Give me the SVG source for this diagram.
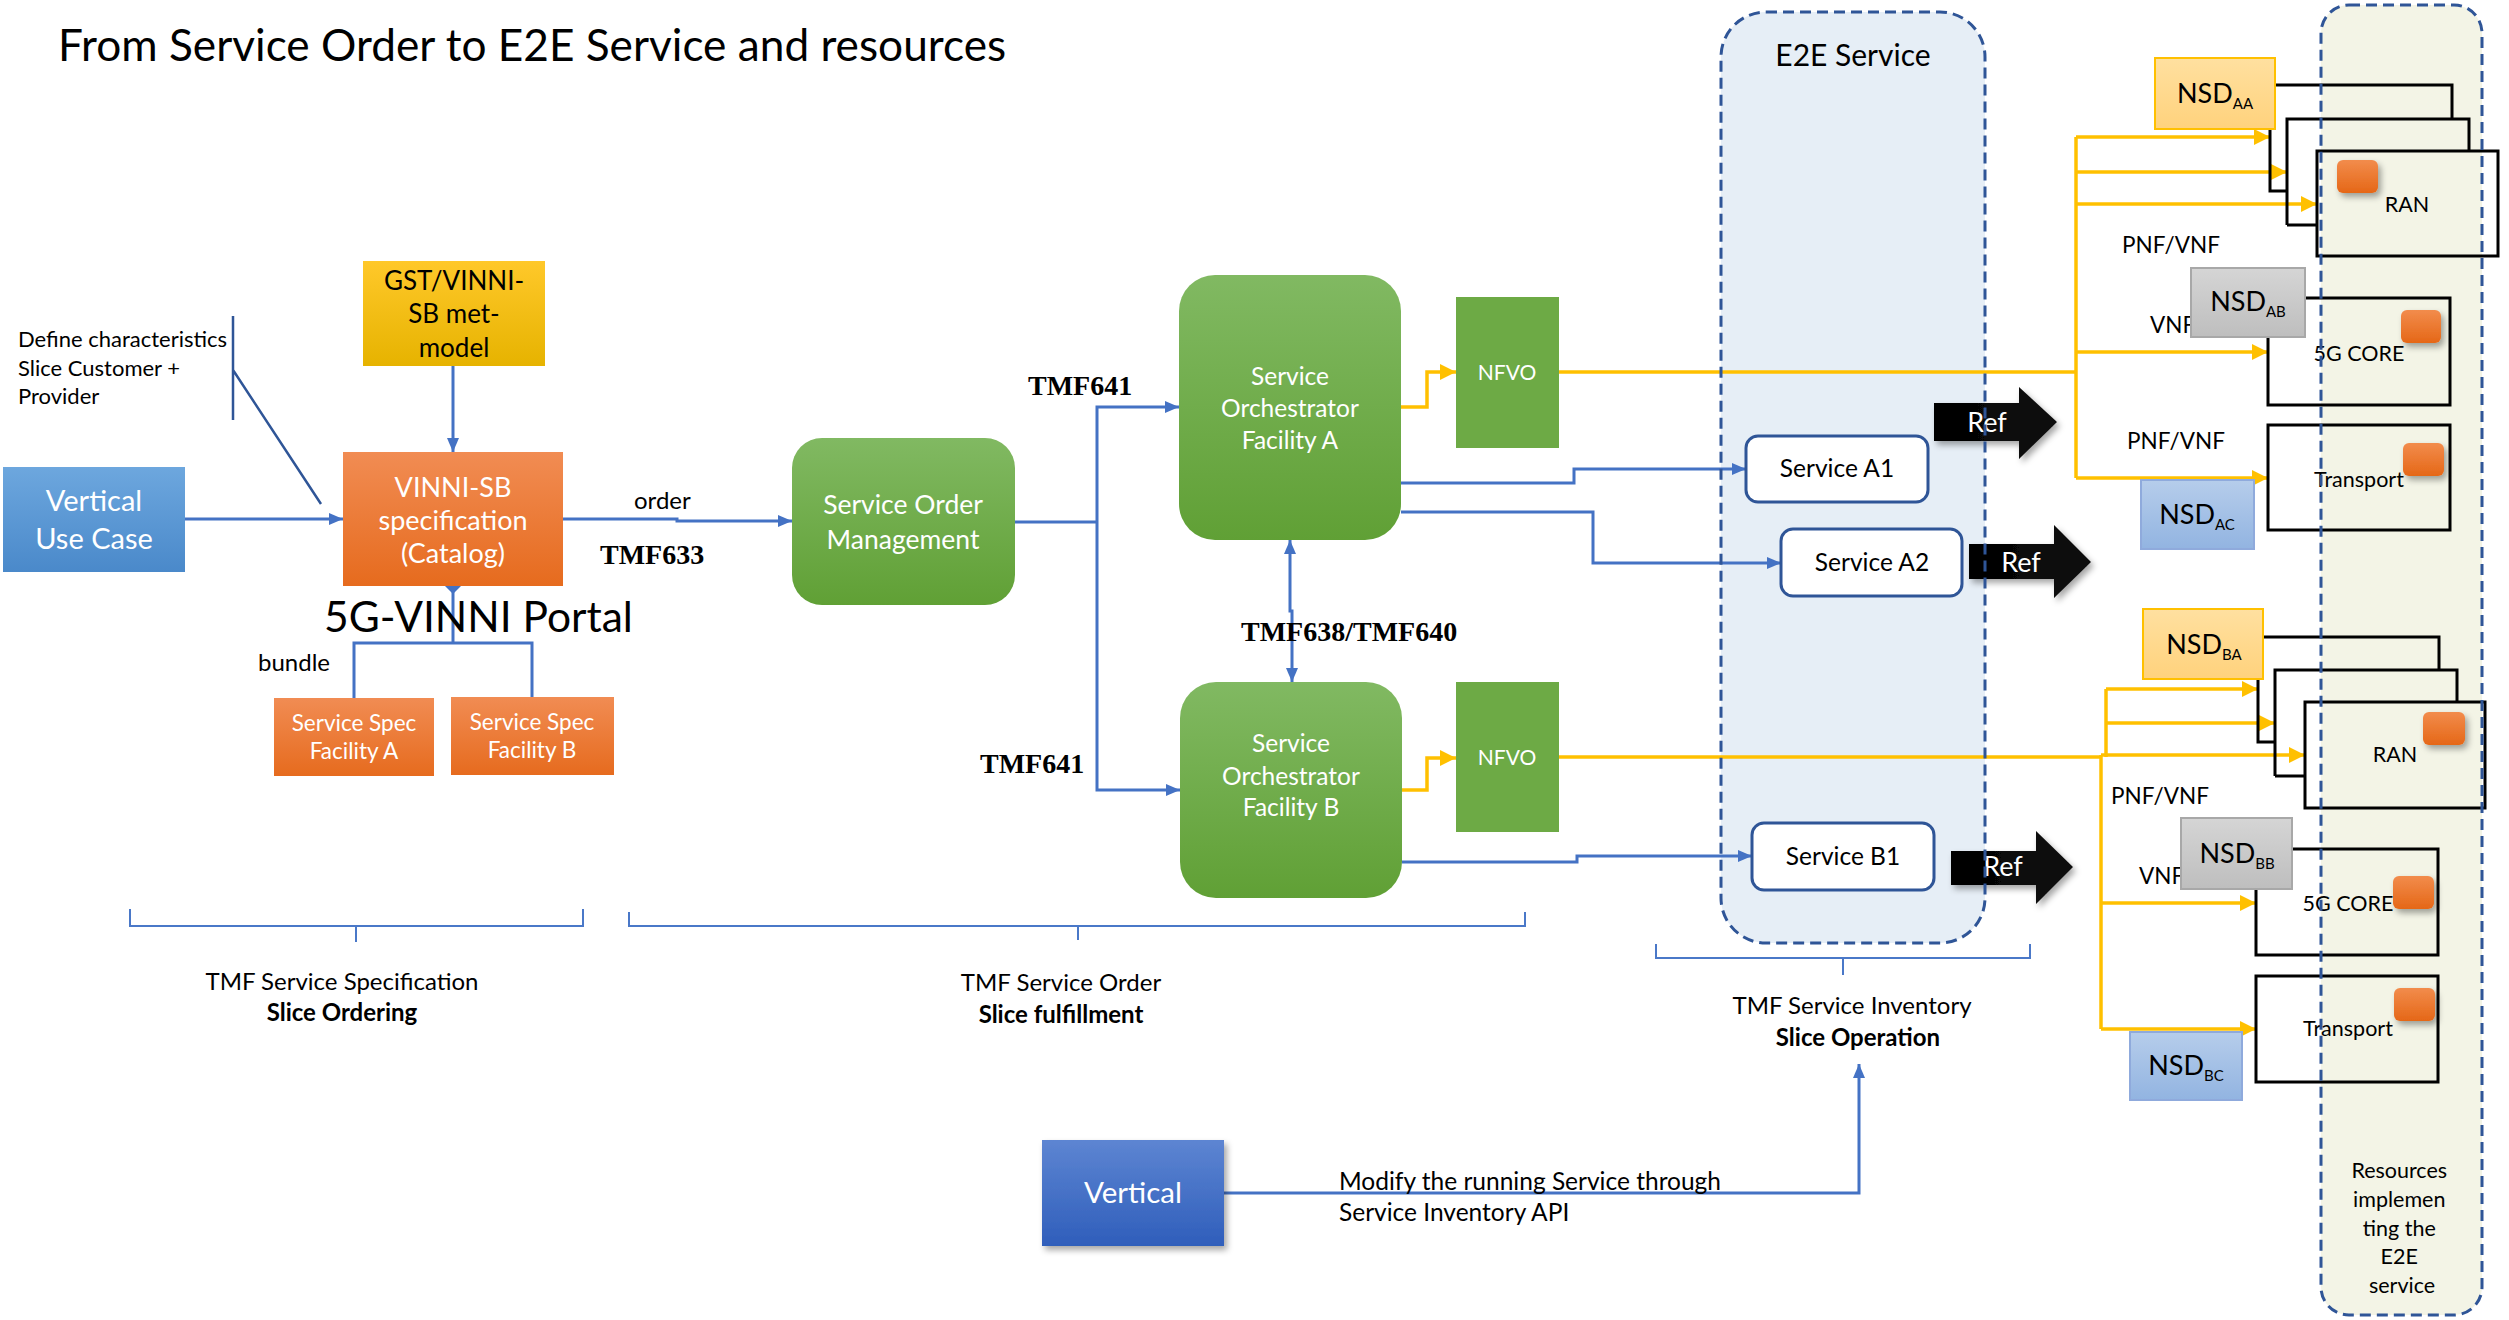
<svg xmlns="http://www.w3.org/2000/svg" width="2509" height="1320" viewBox="0 0 2509 1320">
  <style>
    text { font-family: Lato, "Liberation Sans", sans-serif; fill: #000; }
    .w { fill: #fff; }
    .mid { text-anchor: middle; }
    .tmf { font-family: "Liberation Serif", "Times New Roman", serif; font-weight: bold; font-size: 28px; }
    .blue { fill: none; stroke: #4472C4; stroke-width: 3; }
    .yel { fill: none; stroke: #FFC000; stroke-width: 3.5; }
    .brace { fill: none; stroke: #4A78C8; stroke-width: 2; }
    .res { fill: none; stroke: #000; stroke-width: 3; }
    .svc { fill: #fff; stroke: #2F5597; stroke-width: 3; }
    .dash { stroke: #2F5597; stroke-width: 3; stroke-dasharray: 11 6; }
    .chip { fill: url(#gChip); filter: url(#shadow); }
  </style>
  <defs>
    <linearGradient id="gBlue" x1="0" y1="0" x2="0" y2="1"><stop offset="0" stop-color="#6DA7DE"/><stop offset="1" stop-color="#4A89CA"/></linearGradient>
    <linearGradient id="gGold" x1="0" y1="0" x2="0" y2="1"><stop offset="0" stop-color="#FFC82A"/><stop offset="1" stop-color="#E6B300"/></linearGradient>
    <linearGradient id="gOrange" x1="0" y1="0" x2="0" y2="1"><stop offset="0" stop-color="#F18C53"/><stop offset="1" stop-color="#E66B1E"/></linearGradient>
    <linearGradient id="gGreen" x1="0" y1="0" x2="0" y2="1"><stop offset="0" stop-color="#81B962"/><stop offset="1" stop-color="#60A035"/></linearGradient>
    <linearGradient id="gVert" x1="0" y1="0" x2="0" y2="1"><stop offset="0" stop-color="#5D85D2"/><stop offset="1" stop-color="#2F5EBB"/></linearGradient>
    <linearGradient id="gNsdY" x1="0" y1="0" x2="0" y2="1"><stop offset="0" stop-color="#FFE0A0"/><stop offset="1" stop-color="#FFD27C"/></linearGradient>
    <linearGradient id="gNsdG" x1="0" y1="0" x2="0" y2="1"><stop offset="0" stop-color="#D5D5D5"/><stop offset="1" stop-color="#BEBEBE"/></linearGradient>
    <linearGradient id="gNsdB" x1="0" y1="0" x2="0" y2="1"><stop offset="0" stop-color="#B6CDEB"/><stop offset="1" stop-color="#92B4E1"/></linearGradient>
    <linearGradient id="gChip" x1="0" y1="0" x2="0" y2="1"><stop offset="0" stop-color="#F28C4C"/><stop offset="1" stop-color="#E56717"/></linearGradient>
    <linearGradient id="gRef" x1="0" y1="0" x2="1" y2="0"><stop offset="0" stop-color="#000"/><stop offset="1" stop-color="#111"/></linearGradient>
    <filter id="shadow" x="-30%" y="-30%" width="170%" height="170%">
      <feDropShadow dx="3" dy="4" stdDeviation="3" flood-color="#000" flood-opacity="0.35"/>
    </filter>
    <marker id="aB" markerUnits="userSpaceOnUse" markerWidth="14" markerHeight="12" refX="14" refY="6" orient="auto">
      <path d="M0,0 L14,6 L0,12 z" fill="#4472C4"/>
    </marker>
    <marker id="aBs" markerUnits="userSpaceOnUse" markerWidth="14" markerHeight="12" refX="0" refY="6" orient="auto">
      <path d="M14,0 L0,6 L14,12 z" fill="#4472C4"/>
    </marker>
    <marker id="dia" markerUnits="userSpaceOnUse" markerWidth="16" markerHeight="16" refX="8" refY="8" orient="auto">
      <path d="M0,8 L8,0 L16,8 L8,16 z" fill="#4472C4"/>
    </marker>
    <marker id="aY" markerUnits="userSpaceOnUse" markerWidth="16" markerHeight="16" refX="16" refY="8" orient="auto">
      <path d="M0,0 L16,8 L0,16 z" fill="#FFC000"/>
    </marker>
  </defs>

  <rect width="2509" height="1320" fill="#fff"/>

  <!-- title -->
  <text x="58" y="61" font-size="44.2">From Service Order to E2E Service and resources</text>

  <!-- containers (background) -->
  <g id="e2e-service">
    <rect x="1721" y="12" width="264" height="931" rx="45" fill="#E6EEF6"/>
    <text class="mid" x="1853" y="66" font-size="30">E2E Service</text>
  </g>
  <g id="resources">
    <rect x="2321" y="5" width="161" height="1310" rx="28" fill="#F3F4E6"/>
    <text class="mid" font-size="21.5" x="2402">
      <tspan x="2402" y="1178">Resources</tspan>
      <tspan x="2402" y="1207">implemen</tspan>
      <tspan x="2402" y="1236">ting the</tspan>
      <tspan x="2402" y="1264">E2E</tspan>
      <tspan x="2402" y="1293">service</tspan>
    </text>
  </g>

  <!-- left annotation -->
  <g id="characteristics">
    <text font-size="22"><tspan x="18" y="347">Define characteristics</tspan><tspan x="18" y="376">Slice Customer +</tspan><tspan x="18" y="404">Provider</tspan></text>
  </g>

  <!-- connectors -->
  <g id="connectors">
    <path class="blue" d="M185 519 H343" marker-end="url(#aB)"/>
    <path class="blue" d="M453 366 V452" marker-end="url(#aB)"/>
    <path d="M233 316 V420 M233 370 L321 504" fill="none" stroke="#2F5597" stroke-width="2.5"/>
    <path class="blue" d="M453 643 V586" marker-end="url(#dia)"/>
    <path class="blue" d="M354 698 V643 H532 V698"/>
    <path class="blue" d="M563 519 H677 V521 H792" marker-end="url(#aB)"/>
    <path class="blue" d="M1015 522 H1097"/>
    <path class="blue" d="M1097 522 V407 H1179" marker-end="url(#aB)"/>
    <path class="blue" d="M1097 522 V790 H1180" marker-end="url(#aB)"/>
    <path class="blue" d="M1290 540 V611 H1292 V682" marker-start="url(#aBs)" marker-end="url(#aB)"/>
    <path class="blue" d="M1401 483 H1574 V469 H1746" marker-end="url(#aB)"/>
    <path class="blue" d="M1401 512 H1593 V563 H1781" marker-end="url(#aB)"/>
    <path class="blue" d="M1402 862 H1577 V856 H1752" marker-end="url(#aB)"/>
    <path class="blue" d="M1224 1193 H1859 V1064" marker-end="url(#aB)"/>

    <path class="brace" d="M130 909 V926 H583 V909 M356 926 V942"/>
    <path class="brace" d="M629 912 V926 H1525 V912 M1078 926 V940"/>
    <path class="brace" d="M1656 944 V958 H2030 V944 M1843 958 V975"/>

    <!-- facility A resource links -->
    <path class="yel" d="M1401 407 H1427 V372 H1456" marker-end="url(#aY)"/>
    <path class="yel" d="M1559 372 H2076"/>
    <path class="yel" d="M2076 137 V478"/>
    <path class="yel" d="M2076 137 H2270" marker-end="url(#aY)"/>
    <path class="yel" d="M2076 172 H2287" marker-end="url(#aY)"/>
    <path class="yel" d="M2076 204 H2317" marker-end="url(#aY)"/>
    <path class="yel" d="M2076 352 H2268" marker-end="url(#aY)"/>
    <path class="yel" d="M2076 478 H2268" marker-end="url(#aY)"/>

    <!-- facility B resource links -->
    <path class="yel" d="M1402 790 H1427 V758 H1456" marker-end="url(#aY)"/>
    <path class="yel" d="M1559 757 H2101"/>
    <path class="yel" d="M2101 755 H2305" marker-end="url(#aY)"/>
    <path class="yel" d="M2106 689 V757"/>
    <path class="yel" d="M2101 755 V1029"/>
    <path class="yel" d="M2106 689 H2258" marker-end="url(#aY)"/>
    <path class="yel" d="M2106 723 H2275" marker-end="url(#aY)"/>
    <path class="yel" d="M2101 903 H2256" marker-end="url(#aY)"/>
    <path class="yel" d="M2101 1029 H2256" marker-end="url(#aY)"/>
  </g>

  <!-- catalog side -->
  <g id="vertical-use-case">
    <rect x="3" y="467" width="182" height="105" fill="url(#gBlue)"/>
    <text class="w mid" font-size="29"><tspan x="94" y="511">Vertical</tspan><tspan x="94" y="549">Use Case</tspan></text>
  </g>
  <g id="gst-metamodel">
    <rect x="363" y="261" width="182" height="105" fill="url(#gGold)"/>
    <text class="mid" font-size="26"><tspan x="454" y="290">GST/VINNI-</tspan><tspan x="454" y="323">SB met-</tspan><tspan x="454" y="357">model</tspan></text>
  </g>
  <g id="vinni-sb-spec">
    <rect x="343" y="452" width="220" height="134" fill="url(#gOrange)"/>
    <text class="w mid" font-size="27"><tspan x="453" y="497">VINNI-SB</tspan><tspan x="453" y="530">specification</tspan><tspan x="453" y="563">(Catalog)</tspan></text>
  </g>
  <g id="portal-label">
    <text x="324" y="632" font-size="42.5">5G-VINNI Portal</text>
    <text x="258" y="671" font-size="24">bundle</text>
  </g>
  <g id="spec-facility-a">
    <rect x="274" y="698" width="160" height="78" fill="url(#gOrange)"/>
    <text class="w mid" font-size="22.5"><tspan x="354" y="731">Service Spec</tspan><tspan x="354" y="759">Facility A</tspan></text>
  </g>
  <g id="spec-facility-b">
    <rect x="451" y="697" width="163" height="78" fill="url(#gOrange)"/>
    <text class="w mid" font-size="22.5"><tspan x="532" y="730">Service Spec</tspan><tspan x="532" y="758">Facility B</tspan></text>
  </g>

  <!-- ordering -->
  <g id="order-labels">
    <text x="634" y="509" font-size="24">order</text>
    <text class="tmf" x="600" y="564">TMF633</text>
    <text class="tmf" x="1028" y="395">TMF641</text>
    <text class="tmf" x="980" y="773">TMF641</text>
    <text class="tmf" x="1241" y="641" font-size="24">TMF638/TMF640</text>
  </g>
  <g id="service-order-management">
    <rect x="792" y="438" width="223" height="167" rx="30" fill="url(#gGreen)"/>
    <text class="w mid" font-size="26.5"><tspan x="903" y="514">Service Order</tspan><tspan x="903" y="549">Management</tspan></text>
  </g>
  <g id="orchestrator-a">
    <rect x="1179" y="275" width="222" height="265" rx="36" fill="url(#gGreen)"/>
    <text class="w mid" font-size="24.5"><tspan x="1290" y="385">Service</tspan><tspan x="1290" y="417">Orchestrator</tspan><tspan x="1290" y="449">Facility A</tspan></text>
  </g>
  <g id="orchestrator-b">
    <rect x="1180" y="682" width="222" height="216" rx="36" fill="url(#gGreen)"/>
    <text class="w mid" font-size="24.5"><tspan x="1291" y="752">Service</tspan><tspan x="1291" y="785">Orchestrator</tspan><tspan x="1291" y="816">Facility B</tspan></text>
  </g>
  <g id="nfvo-a">
    <rect x="1456" y="297" width="103" height="151" fill="#6DAA45"/>
    <text class="w mid" x="1507" y="380" font-size="21">NFVO</text>
  </g>
  <g id="nfvo-b">
    <rect x="1456" y="682" width="103" height="150" fill="#6DAA45"/>
    <text class="w mid" x="1507" y="765" font-size="21">NFVO</text>
  </g>

  <!-- service inventory -->
  <g id="service-a1">
    <rect class="svc" x="1746" y="436" width="182" height="66" rx="12"/>
    <text class="mid" x="1837" y="477" font-size="24.5">Service A1</text>
  </g>
  <g id="service-a2">
    <rect class="svc" x="1781" y="529" width="181" height="67" rx="12"/>
    <text class="mid" x="1872" y="571" font-size="24.5">Service A2</text>
  </g>
  <g id="service-b1">
    <rect class="svc" x="1752" y="823" width="182" height="67" rx="12"/>
    <text class="mid" x="1843" y="865" font-size="24.5">Service B1</text>
  </g>
  <g id="ref-a1">
    <path d="M1934 403 H2019 V387 L2057 422 L2019 459 V441 H1934 z" fill="url(#gRef)" filter="url(#shadow)"/>
    <text class="w mid" x="1987" y="432" font-size="27">Ref</text>
  </g>
  <g id="ref-a2">
    <path d="M1969 544 H2054 V525 L2091 562 L2054 598 V579 H1969 z" fill="url(#gRef)" filter="url(#shadow)"/>
    <text class="w mid" x="2021" y="572" font-size="27">Ref</text>
  </g>
  <g id="ref-b1">
    <path d="M1951 851 H2036 V831 L2073 867 L2036 904 V885 H1951 z" fill="url(#gRef)" filter="url(#shadow)"/>
    <text class="w mid" x="2003" y="876" font-size="27">Ref</text>
  </g>

  <!-- facility A resources -->
  <g id="labels-a">
    <text class="mid" x="2171" y="253" font-size="22.5">PNF/VNF</text>
    <text x="2150" y="333" font-size="22.5">VNF</text>
    <text class="mid" x="2176" y="449" font-size="22.5">PNF/VNF</text>
  </g>
  <g id="ran-a">
    <path class="res" d="M2270 85 H2452 V119 M2270 85 V191 H2287"/>
    <path class="res" d="M2287 225 V119 H2469 V151 M2287 225 H2317"/>
    <rect class="res" x="2317" y="151" width="181" height="105"/>
    <rect class="chip" x="2337" y="160" width="41" height="33" rx="6"/>
    <text class="mid" x="2407" y="212" font-size="21.5">RAN</text>
  </g>
  <g id="nsd-aa">
    <rect x="2155" y="58" width="120" height="71" fill="url(#gNsdY)" stroke="#FFC000" stroke-width="2"/>
    <text class="mid" x="2215" y="103" font-size="27">NSD<tspan font-size="15" dy="6">AA</tspan></text>
  </g>
  <g id="core-a">
    <rect class="res" x="2268" y="298" width="182" height="107"/>
    <rect class="chip" x="2401" y="310" width="40" height="33" rx="6"/>
    <text class="mid" x="2359" y="361" font-size="21.5">5G CORE</text>
  </g>
  <g id="nsd-ab">
    <rect x="2191" y="268" width="114" height="69" fill="url(#gNsdG)" stroke="#A8A8A8" stroke-width="2"/>
    <text class="mid" x="2248" y="311" font-size="27">NSD<tspan font-size="15" dy="6">AB</tspan></text>
  </g>
  <g id="transport-a">
    <rect class="res" x="2268" y="425" width="182" height="105"/>
    <rect class="chip" x="2403" y="443" width="41" height="33" rx="6"/>
    <text class="mid" x="2359" y="487" font-size="21.5">Transport</text>
  </g>
  <g id="nsd-ac">
    <rect x="2141" y="480" width="113" height="69" fill="url(#gNsdB)" stroke="#8FAADC" stroke-width="2"/>
    <text class="mid" x="2197" y="524" font-size="27">NSD<tspan font-size="15" dy="6">AC</tspan></text>
  </g>

  <!-- facility B resources -->
  <g id="labels-b">
    <text class="mid" x="2160" y="804" font-size="22.5">PNF/VNF</text>
    <text x="2139" y="884" font-size="22.5">VNF</text>
  </g>
  <g id="ran-b">
    <path class="res" d="M2258 637 H2439 V670 M2258 637 V742 H2275"/>
    <path class="res" d="M2275 776 V670 H2457 V702 M2275 776 H2305"/>
    <rect class="res" x="2305" y="702" width="180" height="106"/>
    <rect class="chip" x="2423" y="712" width="42" height="33" rx="6"/>
    <text class="mid" x="2395" y="762" font-size="21.5">RAN</text>
  </g>
  <g id="nsd-ba">
    <rect x="2143" y="609" width="120" height="70" fill="url(#gNsdY)" stroke="#FFC000" stroke-width="2"/>
    <text class="mid" x="2204" y="654" font-size="27">NSD<tspan font-size="15" dy="6">BA</tspan></text>
  </g>
  <g id="core-b">
    <rect class="res" x="2256" y="849" width="182" height="106"/>
    <rect class="chip" x="2393" y="876" width="41" height="33" rx="6"/>
    <text class="mid" x="2348" y="911" font-size="21.5">5G CORE</text>
  </g>
  <g id="nsd-bb">
    <rect x="2181" y="818" width="111" height="71" fill="url(#gNsdG)" stroke="#A8A8A8" stroke-width="2"/>
    <text class="mid" x="2237" y="863" font-size="27">NSD<tspan font-size="15" dy="6">BB</tspan></text>
  </g>
  <g id="transport-b">
    <rect class="res" x="2256" y="976" width="182" height="106"/>
    <rect class="chip" x="2394" y="988" width="41" height="33" rx="6"/>
    <text class="mid" x="2348" y="1036" font-size="21.5">Transport</text>
  </g>
  <g id="nsd-bc">
    <rect x="2130" y="1032" width="112" height="68" fill="url(#gNsdB)" stroke="#8FAADC" stroke-width="2"/>
    <text class="mid" x="2186" y="1075" font-size="27">NSD<tspan font-size="15" dy="6">BC</tspan></text>
  </g>

  <!-- container outlines on top -->
  <rect x="1721" y="12" width="264" height="931" rx="45" fill="none" class="dash"/>
  <rect x="2321" y="5" width="161" height="1310" rx="28" fill="none" class="dash"/>

  <!-- lifecycle phases -->
  <g id="phase-labels">
    <text class="mid" font-size="24"><tspan x="342" y="990">TMF Service Specification</tspan><tspan x="342" y="1021" font-weight="bold">Slice Ordering</tspan></text>
    <text class="mid" font-size="24"><tspan x="1061" y="991">TMF Service Order</tspan><tspan x="1061" y="1023" font-weight="bold">Slice fulfillment</tspan></text>
    <text class="mid" font-size="24"><tspan x="1852" y="1014">TMF Service Inventory</tspan><tspan x="1858" y="1046" font-weight="bold">Slice Operation</tspan></text>
  </g>

  <g id="vertical">
    <rect x="1042" y="1140" width="182" height="106" fill="url(#gVert)" filter="url(#shadow)"/>
    <text class="w mid" x="1133" y="1203" font-size="29.5">Vertical</text>
  </g>
  <g id="modify-label">
    <text font-size="24.5"><tspan x="1339" y="1190">Modify the running Service through</tspan><tspan x="1339" y="1221">Service Inventory API</tspan></text>
  </g>
</svg>
